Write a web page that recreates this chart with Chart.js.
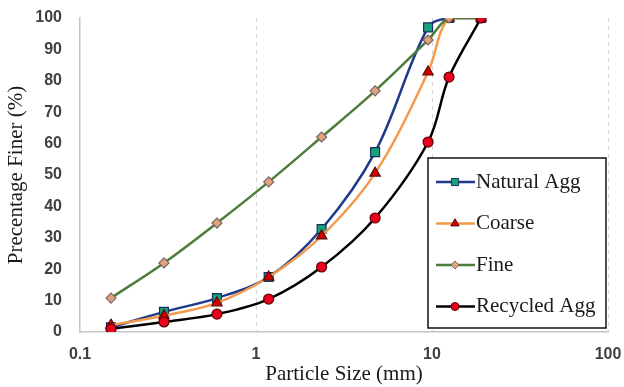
<!DOCTYPE html>
<html>
<head>
<meta charset="utf-8">
<script src="https://cdn.jsdelivr.net/npm/chart.js@4"></script>
<style>
    body { margin: 0; background: #fff; }
    #wrap { width: 624px; height: 387px; position: relative; }
</style>
</head>
<body>
<div id="wrap"><canvas id="chart"></canvas></div>
<script>
// sieve sizes (mm)
const sizes = [0.15, 0.3, 0.6, 1.18, 2.36, 4.75, 9.5, 12.5, 19]
// percentage finer for each material
const naturalAgg = [1.5, 6.4, 10.8, 17.5, 32.8, 57.3, 97, 100, 100]
const coarse = [2.2, 5.2, 9.3, 17.5, 30.6, 50.6, 82.8, 100, 100]
const fine = [10.8, 22, 34.7, 47.8, 62.1, 76.8, 93, 100, 100]
const recycledAgg = [1, 3.2, 5.7, 10.5, 20.7, 36.3, 60.5, 81.2, 100]
// axis ticks
const xTicks = [0.1, 1, 10, 100]
const yTicks = [0, 10, 20, 30, 40, 50, 60, 70, 80, 90, 100]

function points(values) {
    return sizes.map((s, i) => ({ x: s, y: values[i] }))
}

function series(label, values, line, style, fill, edge, radius, order) {
    return {
        label: label,
        data: points(values),
        borderColor: line,
        borderWidth: 2.5,
        pointStyle: style,
        pointRadius: radius,
        pointBackgroundColor: fill,
        pointBorderColor: edge,
        pointBorderWidth: 1.2,
        tension: 0.35,
        fill: false,
        order: order
    }
}

const datasets = [
    series('Natural Agg', naturalAgg, '#1f3a8a', 'rect', '#14a37a', '#1b2f5e', 6.3, 3),
    series('Coarse', coarse, '#f29a4e', 'triangle', '#d40000', '#5a0a0a', 6, 2),
    series('Fine', fine, '#4e7d3a', 'rectRot', '#e2a37c', '#7a6464', 5, 1),
    series('Recycled Agg', recycledAgg, '#000000', 'circle', '#e8001c', '#5e0000', 5, 0)
]

// legend box drawn inside the plot, like the excel one
const boxLegend = {
    id: 'boxLegend',
    afterDraw(chart) {
        const ctx = chart.ctx
        const area = chart.chartArea
        const left = area.right - 180
        const top = area.top + 140
        const w = 178
        const h = 170
        ctx.save()
        ctx.fillStyle = '#ffffff'
        ctx.fillRect(left, top, w, h)
        ctx.strokeStyle = '#111111'
        ctx.lineWidth = 1.5
        ctx.strokeRect(left, top, w, h)
        chart.data.datasets.forEach((ds, i) => {
            let y = top + 24 + i * 41.5
            ctx.strokeStyle = ds.borderColor
            ctx.lineWidth = 2.5
            ctx.beginPath()
            ctx.moveTo(left + 8, y)
            ctx.lineTo(left + 47, y)
            ctx.stroke()
            ctx.fillStyle = ds.pointBackgroundColor
            ctx.strokeStyle = ds.pointBorderColor
            ctx.lineWidth = 1
            Chart.helpers.drawPoint(ctx, {
                pointStyle: ds.pointStyle,
                radius: ds.pointRadius * 0.8,
                rotation: 0,
                borderWidth: 1
            }, left + 27, y)
            ctx.fillStyle = '#1a1a1a'
            ctx.font = '21px "Liberation Serif"'
            ctx.textBaseline = 'middle'
            ctx.textAlign = 'left'
            ctx.fillText(ds.label, left + 48, y)
        })
        ctx.restore()
    }
}

const clear = 'rgba(0,0,0,0)'

new Chart(document.getElementById('chart'), {
    type: 'line',
    data: { datasets: datasets },
    options: {
        responsive: true,
        maintainAspectRatio: false,
        animation: false,
        layout: { padding: { top: 18, right: 16, left: 0, bottom: 0 } },
        plugins: {
            legend: { display: false },
            tooltip: { enabled: false }
        },
        scales: {
            x: {
                type: 'logarithmic',
                min: 0.1,
                max: 100,
                afterBuildTicks: scale => { scale.ticks = xTicks.map(v => ({ value: v })) },
                afterFit: scale => { scale.height = 55 },
                ticks: {
                    padding: 2,
                    color: '#404040',
                    font: { family: '"Liberation Sans"', size: 16, weight: 'bold' },
                    callback: v => String(v)
                },
                grid: {
                    drawTicks: true,
                    tickLength: 11,
                    tickColor: clear,
                    lineWidth: 1,
                    color: ctx => ctx.tick && ctx.tick.value === 0.1 ? clear : '#d4d4d4'
                },
                border: { display: true, color: '#c4c4c4', width: 1.5, dash: [4, 4] },
                title: {
                    display: true,
                    text: 'Particle Size (mm)',
                    color: '#1a1a1a',
                    font: { family: '"Liberation Serif"', size: 21 },
                    padding: { top: 0, bottom: 0 }
                }
            },
            y: {
                type: 'linear',
                min: 0,
                max: 100,
                afterBuildTicks: scale => { scale.ticks = yTicks.map(v => ({ value: v })) },
                afterFit: scale => { scale.width = 80 },
                ticks: {
                    padding: 2,
                    color: '#404040',
                    font: { family: '"Liberation Sans"', size: 16, weight: 'bold' }
                },
                grid: {
                    display: true,
                    drawOnChartArea: false,
                    drawTicks: true,
                    tickLength: 16,
                    tickColor: clear,
                    color: clear
                },
                border: { display: true, color: '#c4c4c4', width: 1.5 },
                title: {
                    display: true,
                    text: 'Precentage Finer (%)',
                    color: '#1a1a1a',
                    font: { family: '"Liberation Serif"', size: 21 },
                    padding: { top: 4, bottom: 0 }
                }
            }
        }
    },
    plugins: [boxLegend]
})
</script>
</body>
</html>
